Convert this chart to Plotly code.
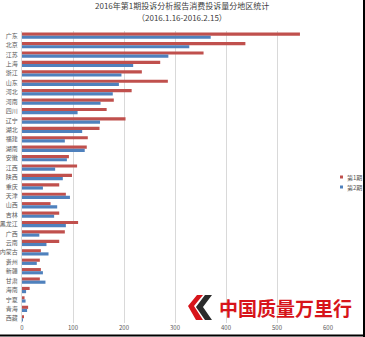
import plotly.graph_objects as go

provinces = ["广东", "北京", "江苏", "上海", "浙江", "山东", "河北", "河南", "四川", "辽宁", "湖北",
             "福建", "湖南", "安徽", "江西", "陕西", "重庆", "天津", "山西", "吉林", "黑龙江", "广西",
             "云南", "内蒙古", "贵州", "新疆", "甘肃", "海南", "宁夏", "青海", "西藏"]
period1 = [545, 438, 356, 271, 235, 286, 215, 180, 166, 203, 152,
           129, 127, 92, 108, 98, 73, 86, 56, 73, 110, 84,
           73, 37, 35, 37, 35, 15, 5, 12, 3]
period2 = [370, 328, 287, 218, 195, 190, 178, 154, 109, 153, 118,
           84, 123, 88, 65, 80, 41, 94, 69, 63, 86, 34,
           48, 52, 29, 41, 46, 8, 7, 10, 1]
series_names = ["第1期", "第2期"]
series_colors = ["#C0504D", "#4F81BD"]
x_ticks = [0, 100, 200, 300, 400, 500, 600]

W, H = 365, 337
L, R, T, B = 22, 37, 31, 14
PW, PH = W - L - R, H - T - B


def px(x):
    return (x - L) / PW


def py(y):
    return (H - B - y) / PH


font = "Noto Sans CJK SC, sans-serif"

fig = go.Figure()
fig.add_trace(go.Bar(y=provinces, x=period1, name=series_names[0], orientation="h",
                     marker=dict(color=series_colors[0], line=dict(width=0))))
fig.add_trace(go.Bar(y=provinces, x=period2, name=series_names[1], orientation="h",
                     marker=dict(color=series_colors[1], line=dict(width=0))))

shapes = [
    dict(type="line", xref="paper", yref="paper", x0=px(364), x1=px(364), y0=py(0), y1=py(337),
         line=dict(color="black", width=2)),
    dict(type="line", xref="paper", yref="paper", x0=px(0), x1=px(365), y0=py(335.5), y1=py(335.5),
         line=dict(color="black", width=2)),
]


def path(points):
    return "M " + " L ".join(f"{px(a):.4f},{py(b):.4f}" for a, b in points) + " Z"


shapes.append(dict(type="path", xref="paper", yref="paper",
                   path=path([(197, 295), (203, 295), (194, 306), (203, 320), (196, 320), (188, 306)]),
                   fillcolor="#D7141A", line=dict(width=0)))
shapes.append(dict(type="path", xref="paper", yref="paper",
                   path=path([(205, 295), (212, 295), (203, 307), (212, 320), (205, 320), (196, 307)]),
                   fillcolor="#2B2B2B", line=dict(width=0)))

annotations = [
    dict(text="2016年第1期投诉分析报告消费投诉量分地区统计", xref="paper", yref="paper",
         x=px(182), y=py(6), xanchor="center", yanchor="middle", showarrow=False,
         font=dict(size=8, color="#404040", family=font)),
    dict(text="（2016.1.16-2016.2.15）", xref="paper", yref="paper",
         x=px(182), y=py(18), xanchor="center", yanchor="middle", showarrow=False,
         font=dict(size=8, color="#404040", family=font)),
    dict(text="中国质量万里行", xref="paper", yref="paper",
         x=px(285), y=py(307), xanchor="center", yanchor="middle", showarrow=False,
         font=dict(size=19, color="#D7141A", family=font, weight=700)),
]

# legend drawn manually to keep the plot area fixed
for i, (name, col) in enumerate(zip(series_names, series_colors)):
    yc = 177 + 10 * i
    shapes.append(dict(type="rect", xref="paper", yref="paper",
                       x0=px(340), x1=px(343), y0=py(yc + 1.5), y1=py(yc - 1.5),
                       fillcolor=col, line=dict(width=0)))
    annotations.append(dict(text=name, xref="paper", yref="paper", x=px(344.5), y=py(yc),
                            xanchor="left", yanchor="middle", showarrow=False,
                            font=dict(size=6, color="#595959", family=font)))

fig.update_layout(
    width=W, height=H,
    margin=dict(l=L, r=R, t=T, b=B, autoexpand=False),
    paper_bgcolor="white", plot_bgcolor="white",
    barmode="group", bargap=0.33, bargroupgap=0.0,
    font=dict(family=font, size=6, color="#595959"),
    showlegend=False,
    xaxis=dict(range=[0, 600], tickvals=x_ticks, showgrid=True, gridcolor="#D9D9D9", gridwidth=1,
               zeroline=False, showline=False, ticks="", tickfont=dict(size=6, color="#595959"),
               automargin=False),
    yaxis=dict(autorange="reversed", showgrid=False, showline=True, linecolor="#D9D9D9",
               ticks="", tickfont=dict(size=6, color="#595959"), ticklabelstandoff=2,
               automargin=False),
    shapes=shapes,
    annotations=annotations,
)

fig.write_html("out.html")
